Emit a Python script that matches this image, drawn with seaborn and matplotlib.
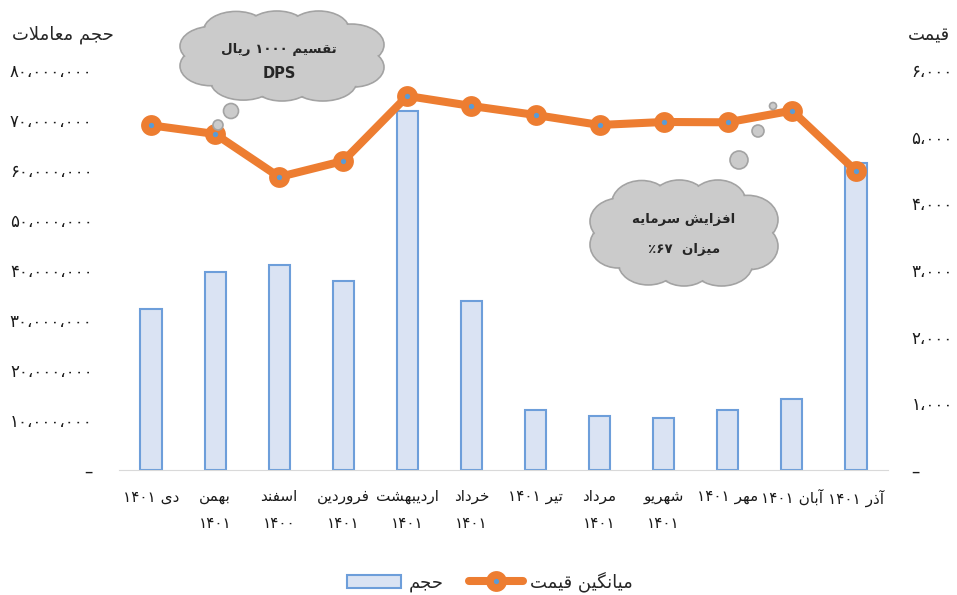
import re
import numpy as np
import pandas as pd
import seaborn as sns
import matplotlib
matplotlib.use('Agg')
import matplotlib.pyplot as plt
from matplotlib import font_manager
from matplotlib.ft2font import FT2Font
from matplotlib.patches import Ellipse, Circle, Patch
from matplotlib.lines import Line2D
from matplotlib.legend_handler import HandlerTuple
from matplotlib.ticker import FuncFormatter

# data
months = ['دی ۱۴۰۱', 'بهمن\n۱۴۰۱', 'اسفند\n۱۴۰۰', 'فروردین\n۱۴۰۱', 'اردیبهشت\n۱۴۰۱', 'خرداد\n۱۴۰۱',
          'تیر ۱۴۰۱', 'مرداد\n۱۴۰۱', 'شهریو\n۱۴۰۱', 'مهر ۱۴۰۱', 'آبان ۱۴۰۱', 'آذر ۱۴۰۱']
volume = [32.2e6, 39.6e6, 41.0e6, 37.8e6, 71.8e6, 33.8e6, 12.0e6, 10.8e6, 10.4e6, 12.0e6, 14.2e6, 61.4e6]
price = [5170, 5040, 4395, 4635, 5610, 5460, 5325, 5175, 5220, 5215, 5390, 4485]

vol_ticks = list(range(0, 80_000_001, 10_000_000))
price_ticks = list(range(0, 6001, 1000))

title_left = 'حجم معاملات'
title_right = 'قیمت'
cloud1_text = ['تقسیم ۱۰۰۰ ریال', 'DPS']
cloud2_text = ['افزایش سرمایه', 'میزان  ۶۷٪']
legend_labels = ['حجم', 'میانگین قیمت']

BAR_FILL = '#dae3f3'
BAR_EDGE = '#6d9eda'
ORANGE = '#ed7d31'
BLUE = '#5b9bd5'
CLOUD_FILL = '#cbcbcb'
CLOUD_EDGE = '#a3a3a3'

# simple arabic/persian shaping (no bidi library available)
FORMS = {
    '\u0627': ('\ufe8d', '\ufe8e'),
    '\u0622': ('\ufe81', '\ufe82'),
    '\u0628': ('\ufe8f', '\ufe90', '\ufe91', '\ufe92'),
    '\u062a': ('\ufe95', '\ufe96', '\ufe97', '\ufe98'),
    '\u062c': ('\ufe9d', '\ufe9e', '\ufe9f', '\ufea0'),
    '\u062d': ('\ufea1', '\ufea2', '\ufea3', '\ufea4'),
    '\u062e': ('\ufea5', '\ufea6', '\ufea7', '\ufea8'),
    '\u062f': ('\ufea9', '\ufeaa'),
    '\u0630': ('\ufeab', '\ufeac'),
    '\u0631': ('\ufead', '\ufeae'),
    '\u0632': ('\ufeaf', '\ufeb0'),
    '\u0633': ('\ufeb1', '\ufeb2', '\ufeb3', '\ufeb4'),
    '\u0634': ('\ufeb5', '\ufeb6', '\ufeb7', '\ufeb8'),
    '\u0639': ('\ufec9', '\ufeca', '\ufecb', '\ufecc'),
    '\u0641': ('\ufed1', '\ufed2', '\ufed3', '\ufed4'),
    '\u0642': ('\ufed5', '\ufed6', '\ufed7', '\ufed8'),
    '\u0644': ('\ufedd', '\ufede', '\ufedf', '\ufee0'),
    '\u0645': ('\ufee1', '\ufee2', '\ufee3', '\ufee4'),
    '\u0646': ('\ufee5', '\ufee6', '\ufee7', '\ufee8'),
    '\u0647': ('\ufee9', '\ufeea', '\ufeeb', '\ufeec'),
    '\u0648': ('\ufeed', '\ufeee'),
    '\u06cc': ('\ufbfc', '\ufbfd', '\ufbfe', '\ufbff'),
    '\u06af': ('\ufb92', '\ufb93', '\ufb94', '\ufb95'),
}
LAM_ALEF = {'\u0627': ('\ufefb', '\ufefc'), '\u0622': ('\ufef5', '\ufef6')}

cmap = FT2Font(font_manager.findfont('DejaVu Sans')).get_charmap()
if 0xFBFC not in cmap:
    FORMS['\u06cc'] = ('\ufeef', '\ufef0', '\ufef3', '\ufef4')


def joins_next(c):
    return c in FORMS and len(FORMS[c]) == 4


def shape(word):
    out = []
    i = 0
    while i < len(word):
        c = word[i]
        prev = word[i - 1] if i > 0 else ''
        nxt = word[i + 1] if i + 1 < len(word) else ''
        if c not in FORMS:
            out.append(c)
            i += 1
            continue
        jp = joins_next(prev)
        if c == '\u0644' and nxt in LAM_ALEF:
            out.append(LAM_ALEF[nxt][1 if jp else 0])
            i += 2
            continue
        jn = joins_next(c) and nxt in FORMS
        f = FORMS[c]
        if jp and jn:
            out.append(f[3])
        elif jp:
            out.append(f[1])
        elif jn:
            out.append(f[2])
        else:
            out.append(f[0])
        i += 1
    return ''.join(out)


def fa(text):
    lines = []
    for line in text.split('\n'):
        s = shape(line)[::-1]
        s = re.sub('[0-9A-Za-z\u06f0-\u06f9]+', lambda m: m.group(0)[::-1], s)
        lines.append(s)
    return '\n'.join(lines)


FA_DIGITS = str.maketrans('0123456789', '۰۱۲۳۴۵۶۷۸۹')


def fa_num(v, pos=None):
    if abs(v) < 1e-9:
        return '–'
    return f'{int(round(v)):,}'.replace(',', '،').translate(FA_DIGITS)


sns.set_style('white')
plt.rcParams['font.family'] = ['DejaVu Sans']

labels = [fa(m) for m in months]
df = pd.DataFrame({'month': labels, 'volume': volume, 'price': price})

fig = plt.figure(figsize=(9.57, 5.95), dpi=100)
ax = fig.add_axes([0.1243, 0.2101, 0.8036, 0.6723])

sns.barplot(data=df, x='month', y='volume', ax=ax, width=0.33, color=BAR_FILL,
            saturation=1, edgecolor=BAR_EDGE, linewidth=1.5)
ax.set_ylim(0, 80e6)
ax.set_yticks(vol_ticks)
ax.yaxis.set_major_formatter(FuncFormatter(fa_num))
ax.set_xticks(range(len(labels)))
ax.set_xticklabels(labels, linespacing=1.95)
ax.tick_params(axis='y', length=0, pad=19, labelsize=12, labelcolor='#1a1a1a')
ax.tick_params(axis='x', length=0, pad=14, labelsize=11, labelcolor='#1a1a1a')
ax.set_xlabel('')
ax.set_ylabel('')
for s in ['top', 'left', 'right']:
    ax.spines[s].set_visible(False)
ax.spines['bottom'].set_color('#d9d9d9')

# price line on the second axis
ax2 = ax.twinx()
sns.pointplot(data=df, x='month', y='price', ax=ax2, color=ORANGE, markers='o',
              errorbar=None, linewidth=5.8, markersize=15, markeredgewidth=0)
sns.pointplot(data=df, x='month', y='price', ax=ax2, color=BLUE, markers='o',
              errorbar=None, linestyle='none', markersize=3.8, markeredgewidth=0)
ax2.set_ylim(0, 6000)
ax2.set_yticks(price_ticks)
ax2.yaxis.set_major_formatter(FuncFormatter(fa_num))
ax2.tick_params(axis='y', length=0, pad=17, labelsize=12, labelcolor='#1a1a1a')
ax2.set_xlabel('')
ax2.set_ylabel('')
for s in ax2.spines.values():
    s.set_visible(False)

fig.text(12 / 957, 1 - 35 / 595, fa(title_left), ha='left', va='center', fontsize=13)
fig.text(950 / 957, 1 - 35 / 595, fa(title_right), ha='right', va='center', fontsize=13)

# callout clouds on an overlay in pixel units
ov = fig.add_axes([0, 0, 1, 1], zorder=10)
ov.set_xlim(0, 957)
ov.set_ylim(595, 0)
ov.axis('off')

LOBES = [(-0.45, -0.55, 0.32, 0.44), (-0.05, -0.6, 0.3, 0.4), (0.36, -0.58, 0.3, 0.42),
         (0.68, -0.25, 0.32, 0.46), (0.7, 0.25, 0.3, 0.44),
         (0.4, 0.58, 0.33, 0.42), (0.0, 0.6, 0.3, 0.4), (-0.38, 0.56, 0.32, 0.42),
         (-0.7, 0.22, 0.3, 0.44), (-0.68, -0.22, 0.32, 0.44),
         (0, 0, 0.7, 0.65)]


def cloud(cx, cy, a, b, bubbles):
    for shrink, ec in [(0, CLOUD_EDGE), (1.2, 'none')]:
        for dx, dy, rx, ry in LOBES:
            ov.add_patch(Ellipse((cx + dx * a, cy + dy * b), 2 * rx * a - 2 * shrink,
                                 2 * ry * b - 2 * shrink, fc=CLOUD_FILL, ec=ec, lw=1.2))
    for x, y, r in bubbles:
        ov.add_patch(Circle((x, y), r, fc=CLOUD_FILL, ec=CLOUD_EDGE, lw=1.2))


cloud(282, 56, 102, 45, [(231, 111, 7.5), (218, 125, 5)])
cloud(684, 233, 94, 53, [(739, 160, 9), (758, 131, 6), (773, 106, 3.5)])

ov.text(279, 50, fa(cloud1_text[0]), ha='center', va='center', fontsize=9.6, fontweight='bold')
ov.text(279, 74, cloud1_text[1], ha='center', va='center', fontsize=10.5, fontweight='bold')
ov.text(684, 219, fa(cloud2_text[0]), ha='center', va='center', fontsize=9.6, fontweight='bold')
ov.text(684, 249, fa(cloud2_text[1]), ha='center', va='center', fontsize=9.6, fontweight='bold')

# legend
bar_h = Patch(facecolor=BAR_FILL, edgecolor=BAR_EDGE, linewidth=1.5)
line_h = Line2D([], [], color=ORANGE, lw=5.8, marker='o', markersize=15, markeredgewidth=0)
dot_h = Line2D([], [], color=BLUE, lw=0, marker='o', markersize=3.8, markeredgewidth=0)
fig.legend([bar_h, (line_h, dot_h)], [fa(t) for t in legend_labels],
           handler_map={tuple: HandlerTuple(ndivide=1)}, loc='center',
           bbox_to_anchor=(0.512, 0.022), ncol=2, frameon=False, fontsize=13,
           handlelength=3.0, handletextpad=0.4, columnspacing=1.4)

fig.savefig('out.png', dpi=100)
